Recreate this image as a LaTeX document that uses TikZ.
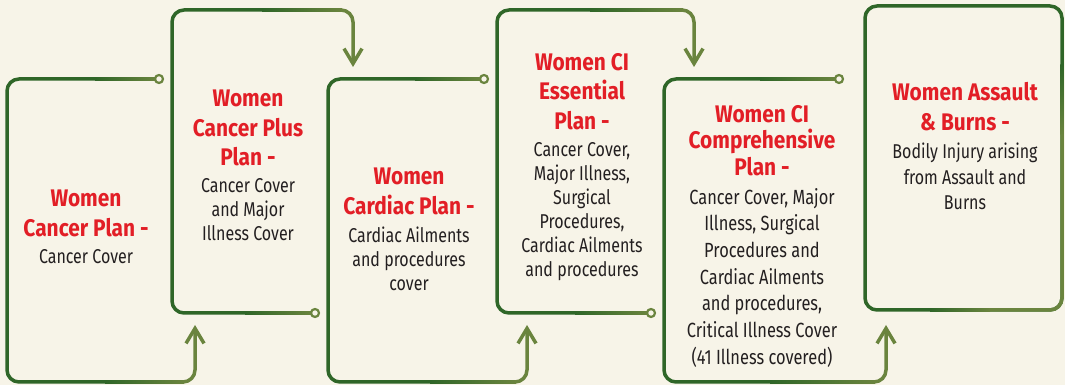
\documentclass[tikz,border=0pt]{standalone}
\usepackage{fontspec}
\setmainfont[FakeStretch=0.8, BoldFeatures={FakeStretch=0.87}]{Fira Sans}
\usetikzlibrary{arrows.meta,positioning}

\definecolor{paper}{RGB}{247,244,232}
\definecolor{framedark}{RGB}{47,102,40}
\definecolor{framelight}{RGB}{106,132,62}
\definecolor{planred}{RGB}{226,30,38}
\definecolor{plangray}{RGB}{35,31,32}

\begin{document}
\begin{tikzpicture}[x=1pt,y=1pt,
    framebody/.style={draw=framedark, line width=3.5pt, rounded corners=12pt},
    frametail/.style={draw=framelight, line width=3.5pt, rounded corners=12pt,
        -{Straight Barb[length=15pt,width=18pt]}},
    fadebar/.style={left color=framedark, right color=framelight},
    ringend/.style={draw=framelight, fill=paper, line width=2.2pt},
    plantitle/.style={inner sep=0pt, anchor=north, align=center, text=planred,
        font=\bfseries\fontsize{24}{29.5}\selectfont},
    plantext/.style={inner sep=0pt, align=center, text=plangray,
        font=\fontsize{20}{24}\selectfont}]
    \useasboundingbox (0,0) rectangle (1065,385);
    \fill[paper] (0,0) rectangle (1065,385);

    % Plan 1 frame
    \draw[framebody] (95,306) -- (7,306) -- (7,3) -- (105,3);
    \shade[fadebar] (95,304.25) rectangle (156,307.75);
    \shade[fadebar] (105,1.25) rectangle (184,4.75);
    \draw[frametail] (183,3) -- (195,3) -- (195,60);
    \draw[ringend] (159,306) circle (4pt);

    % Plan 2 frame
    \draw[framebody] (262,375) -- (172,375) -- (172,72) -- (245,72);
    \shade[fadebar] (262,373.25) rectangle (342,376.75);
    \draw[frametail] (341,375) -- (353,375) -- (353,318);
    \shade[fadebar] (245,70.25) rectangle (312,73.75);
    \draw[ringend] (315,72) circle (4pt);

    % Plan 3 frame
    \draw[framebody] (415,306) -- (328,306) -- (328,3) -- (430,3);
    \shade[fadebar] (415,304.25) rectangle (481,307.75);
    \shade[fadebar] (430,1.25) rectangle (516,4.75);
    \draw[frametail] (515,3) -- (527,3) -- (527,60);
    \draw[ringend] (484,306) circle (4pt);

    % Plan 4 frame
    \draw[framebody] (590,375) -- (497,375) -- (497,72) -- (575,72);
    \shade[fadebar] (590,373.25) rectangle (683,376.75);
    \draw[frametail] (682,375) -- (694,375) -- (694,318);
    \shade[fadebar] (575,70.25) rectangle (648,73.75);
    \draw[ringend] (651,72) circle (4pt);

    % Plan 5 frame
    \draw[framebody] (760,306) -- (664,306) -- (664,3) -- (770,3);
    \shade[fadebar] (760,304.25) rectangle (836,307.75);
    \shade[fadebar] (770,1.25) rectangle (875,4.75);
    \draw[frametail] (874,3) -- (886,3) -- (886,60);
    \draw[ringend] (839,306) circle (4pt);

    % Plan 6 frame, lighter towards the lower right
    \draw[framebody] (865,75) rectangle (1062,379);
    \shade[fadebar] (930,73.25) rectangle (990,76.75);
    \shade[top color=framedark, bottom color=framelight] (1060.25,250) rectangle (1063.75,320);
    \draw[framebody, draw=framelight] (1062,251) -- (1062,75) -- (989,75);

    % Labels
    \node[plantitle] (title1) at (86,195) {Women\\Cancer Plan -};
    \node[plantext, below=12pt of title1] (text1) {Cancer Cover};

    \node[plantitle] (title2) at (248,295) {Women\\Cancer Plus\\Plan -};
    \node[plantext, below=12pt of title2] (text2) {Cancer Cover\\and Major\\Illness Cover};

    \node[plantitle] (title3) at (409,217) {Women\\Cardiac Plan -};
    \node[plantext, below=12pt of title3] (text3) {Cardiac Ailments\\and procedures\\cover};

    \node[plantitle] (title4) at (582,332) {Women CI\\Essential\\Plan -};
    \node[plantext, below=12pt of title4] (text4) {Cancer Cover,\\Major Illness,\\Surgical\\Procedures,\\Cardiac Ailments\\and procedures};

    \node[plantitle, font=\bfseries\fontsize{24}{26.5}\selectfont] (title5) at (762,280) {Women CI\\Comprehensive\\Plan -};
    \node[plantext, font=\fontsize{20.5}{26.7}\selectfont, below=12pt of title5] (text5) {Cancer Cover, Major\\Illness, Surgical\\Procedures and\\Cardiac Ailments\\and procedures,\\Critical Illness Cover\\(41 Illness covered)};

    \node[plantitle, font=\bfseries\fontsize{24}{30}\selectfont] (title6) at (965,303) {Women Assault\\\& Burns -};
    \node[plantext, font=\fontsize{20}{25.5}\selectfont, below=12pt of title6] (text6) {Bodily Injury arising\\from Assault and\\Burns};
\end{tikzpicture}
\end{document}
